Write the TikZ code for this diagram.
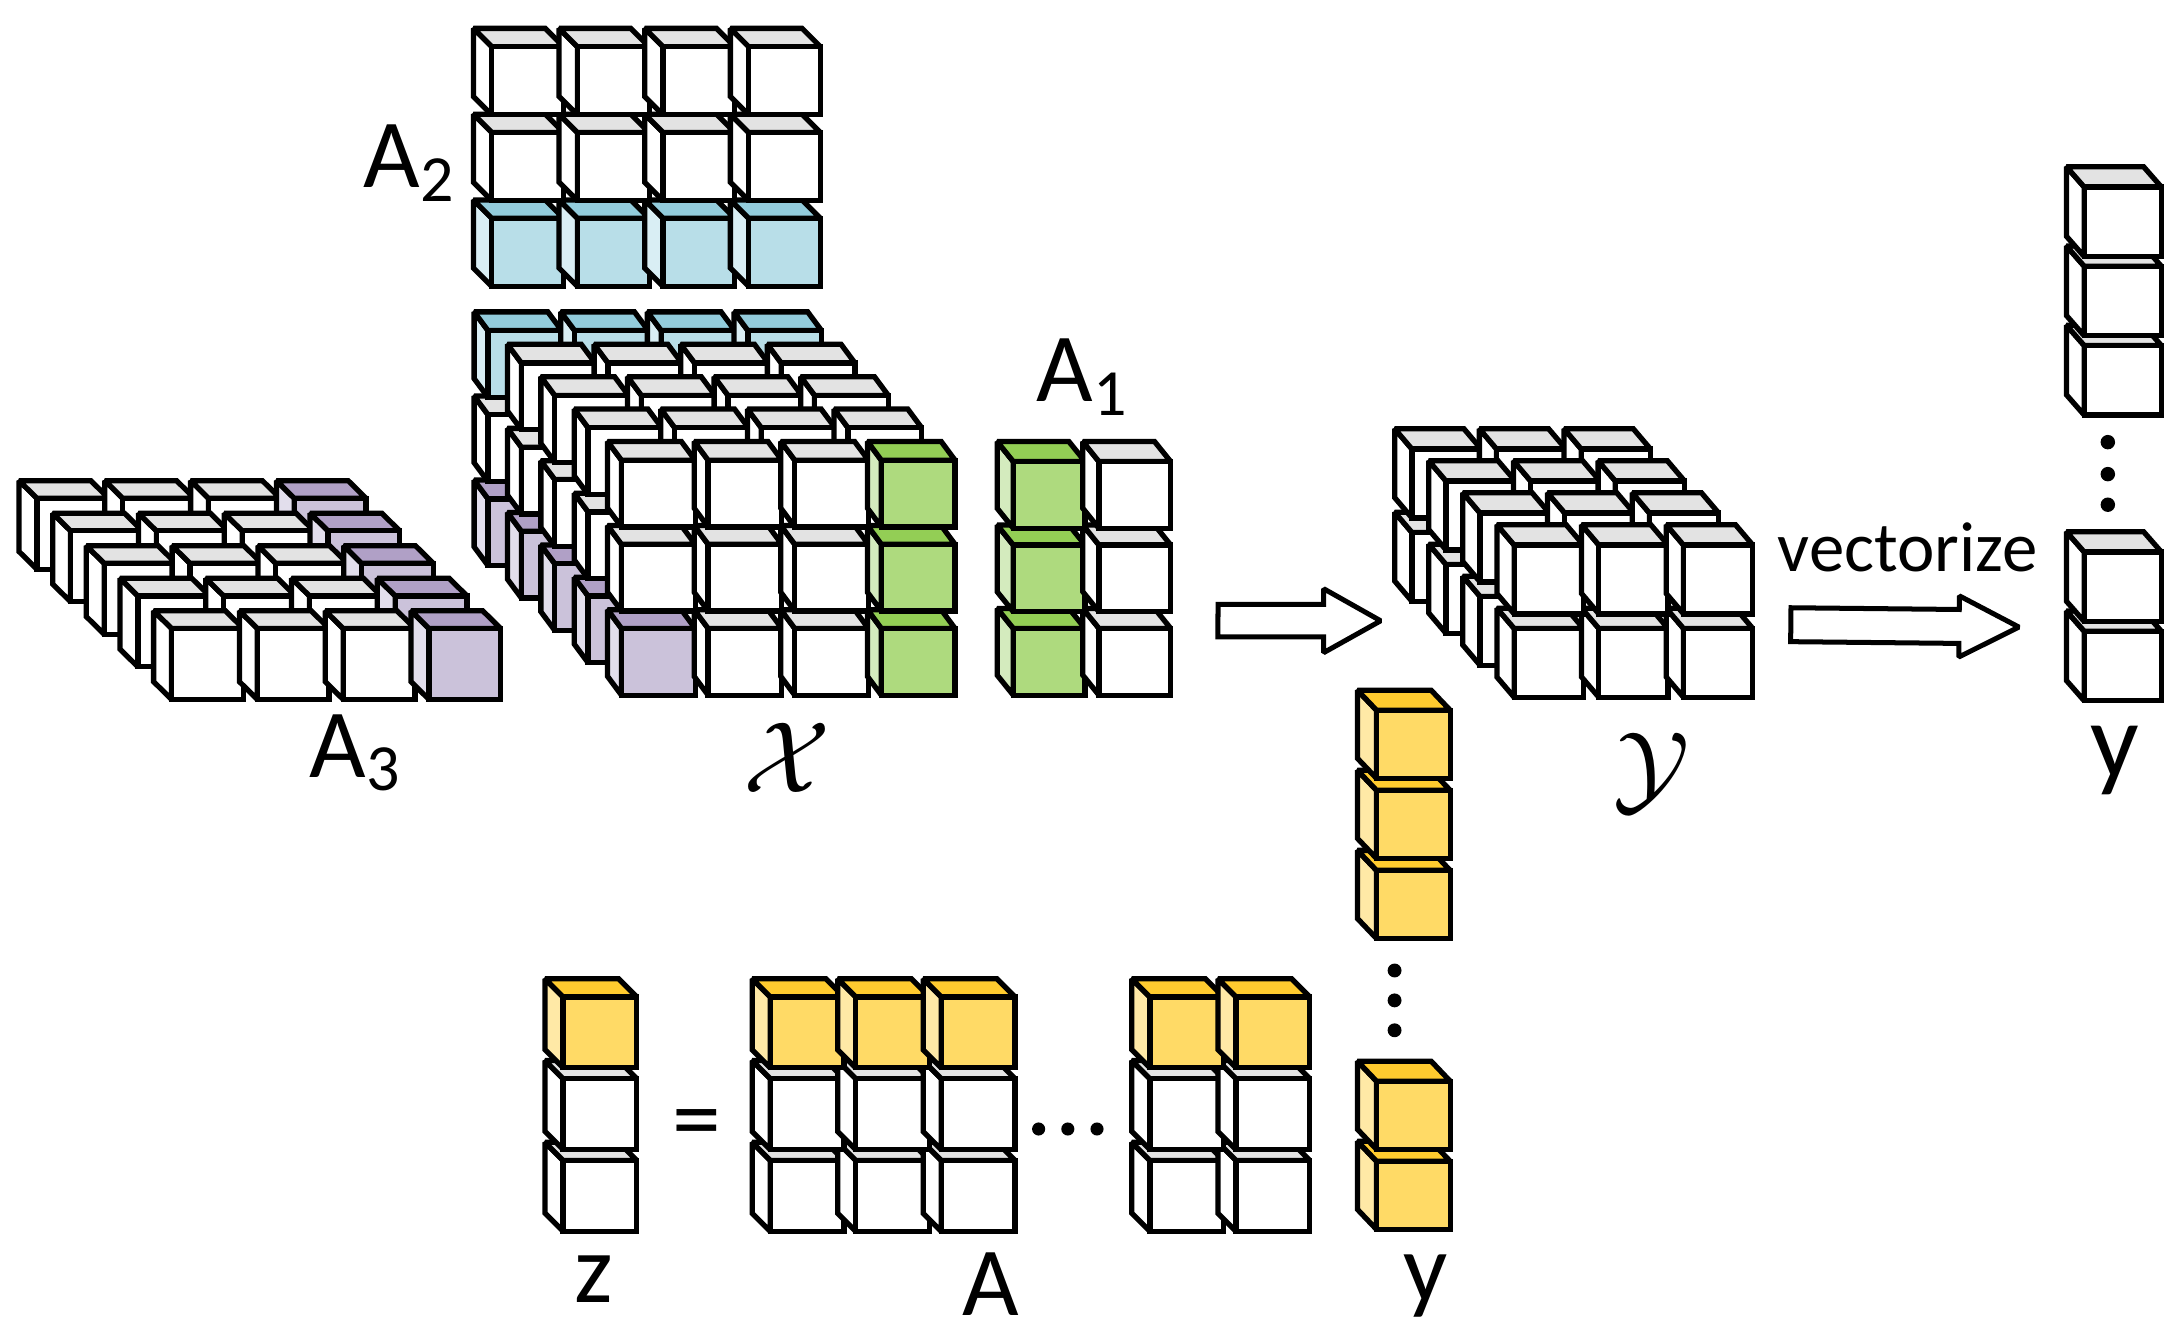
\documentclass[tikz,border=0pt]{standalone}
\usepackage{fontspec}
\setmainfont{Carlito}
\usetikzlibrary{calc}
% face colours: front, top, side
\definecolor{whtfront}{HTML}{FFFFFF}
\definecolor{whttop}{HTML}{E3E3E3}
\definecolor{whtside}{HTML}{FFFFFF}
\definecolor{blufront}{HTML}{B8DEE8}
\definecolor{blutop}{HTML}{93CCDC}
\definecolor{bluside}{HTML}{D9EEF4}
\definecolor{grnfront}{HTML}{AEDA7E}
\definecolor{grntop}{HTML}{93CE55}
\definecolor{grnside}{HTML}{D4EBBE}
\definecolor{prpfront}{HTML}{CBC2DA}
\definecolor{prptop}{HTML}{B0A0C6}
\definecolor{prpside}{HTML}{E2DEEC}
\definecolor{ylwfront}{HTML}{FFDA66}
\definecolor{ylwtop}{HTML}{FFCB2F}
\definecolor{ylwside}{HTML}{FFE9A6}
\tikzset{
cubeline/.style={draw=black, line width=0.38mm, line join=miter, miter limit=1.5},
hollow/.style={draw=black, line width=0.36mm, fill=white, line join=miter, miter limit=1.5},
lbl/.style={font=\fontsize{20}{24}\selectfont, inner sep=0pt, anchor=base},
dot/.style={fill=black},
}
% cube size: front width, front height, depth x, depth y
\newcommand{\setcube}[4]{\def\cubeW{#1}\def\cubeH{#2}\def\cubeDX{#3}\def\cubeDY{#4}}
\newcommand{\drawcube}[3]{%
  \pgfmathsetmacro\cubeX{#1}\pgfmathsetmacro\cubeY{#2}%
  \filldraw[cubeline, fill=#3side] (\cubeX,\cubeY) -- ++(-\cubeDX,-\cubeDY) -- ++(0,\cubeH) -- ++(\cubeDX,\cubeDY) -- cycle;
  \filldraw[cubeline, fill=#3top] (\cubeX,\cubeY) -- ++(-\cubeDX,-\cubeDY) -- ++(\cubeW,0) -- ++(\cubeDX,\cubeDY) -- cycle;
  \filldraw[cubeline, fill=#3front] (\cubeX,\cubeY) rectangle ++(\cubeW,\cubeH);
}
% from, to, shaft half, head half, head length
\newcommand{\blockarrow}[5]{%
  \coordinate (hb) at ($(#2)!#5!(#1)$);
  \draw[hollow] ($(#1)!#3!90:(#2)$) -- ($(hb)!#3!-90:(#1)$) -- ($(hb)!#4!-90:(#1)$)
    -- (#2) -- ($(hb)!#4!90:(#1)$) -- ($(hb)!#3!90:(#1)$) -- ($(#1)!#3!-90:(#2)$) -- cycle;
}
\newcommand{\lblsub}[1]{\raisebox{-2.8pt}{\fontsize{13.5}{16}\selectfont #1}}

\begin{document}
\begin{tikzpicture}[x=0.1mm, y=-0.1mm]
\useasboundingbox (0,0) rectangle (1560,958.7);

% A3
\setcube{51.6}{51}{12.9}{12.7}
\begin{scope}[shift={(123.4,452)}]
\foreach \k in {4,3,2,1,0}
  \foreach \c in {1,2,3,4} {
    \ifnum\c=4 \def\cubecol{prp}\else\def\cubecol{wht}\fi
    \drawcube{(\c-1)*61.7-24.2*\k}{-23.4*\k}{\cubecol}
  }
\end{scope}

% A2
\setcube{51.6}{49}{13.2}{13.2}
\begin{scope}[shift={(353.7,33.6)}]
\foreach \r in {3,2,1}
  \foreach \c in {1,2,3,4} {
    \ifnum\r=3 \def\cubecol{blu}\else\def\cubecol{wht}\fi
    \drawcube{(\c-1)*61.6}{(\r-1)*61.7}{\cubecol}
  }
\end{scope}

% the tensor X
\setcube{53}{48}{10}{13.5}
\begin{scope}[shift={(447,331)}]
\foreach \k in {4,3,2,1,0}
  \foreach \r in {3,2,1}
    \foreach \c in {1,2,3,4} {
      \def\cubecol{wht}
      \ifnum\k=4 \ifnum\r=1 \def\cubecol{blu}\fi\fi
      \ifnum\c=1 \ifnum\r=3 \def\cubecol{prp}\fi\fi
      \ifnum\k=0 \ifnum\c=4 \def\cubecol{grn}\fi\fi
      \drawcube{(\c-1)*62.3-24*\k}{(\r-1)*60.5-23.3*\k}{\cubecol}
    }
\end{scope}

% A1
\setcube{51.6}{48}{11.6}{14.4}
\begin{scope}[shift={(728.8,332)}]
\foreach \r in {3,2,1}
  \foreach \c in {1,2} {
    \ifnum\c=1 \def\cubecol{grn}\else\def\cubecol{wht}\fi
    \drawcube{(\c-1)*61.6}{(\r-1)*60}{\cubecol}
  }
\end{scope}

% the tensor Y
\setcube{49.8}{49.5}{12.4}{14.6}
\begin{scope}[shift={(1089,392)}]
\foreach \k in {3,2,1,0}
  \foreach \r in {2,1}
    \foreach \c in {1,2,3}
      \drawcube{(\c-1)*60.9-24.5*\k}{(\r-1)*60-23*\k}{wht};
\end{scope}

% vector y on the right
\setcube{55.5}{50}{12.8}{14.6}
\foreach \t in {454,397,248.5,191.5,134.5}
  \drawcube{1499}{\t}{wht};
\foreach \t in {318,341,363}
  \fill[dot] (1516,\t) circle[radius=5.2];

% yellow vector y
\setcube{53}{49}{13.7}{14.4}
\foreach \t in {835.2,777.6,626,568.4,510.8}
  \drawcube{990}{\t}{ylw};
\foreach \t in {698,719.5,741}
  \fill[dot] (1003,\t) circle[radius=5];

% z and A
\setcube{53}{51}{13}{13}
\foreach \r in {3,2,1}
  \foreach \x in {405,554,615.5,677,827,889} {
    \ifnum\r=1 \def\cubecol{ylw}\else\def\cubecol{wht}\fi
    \drawcube{\x}{717+(\r-1)*58.8}{\cubecol}
  }
\foreach \x in {747,768,789}
  \fill[dot] (\x,812) circle[radius=4.7];

% the arrows
\coordinate (arr1 tail) at (876,446.3);
\coordinate (arr1 tip) at (993,446.5);
\blockarrow{arr1 tail}{arr1 tip}{1.17mm}{2.3mm}{4.1mm}
\coordinate (arr2 tail) at (1288,449.3);
\coordinate (arr2 tip) at (1452,451);
\blockarrow{arr2 tail}{arr2 tip}{1.22mm}{2.2mm}{4.3mm}

% labels
\node[lbl] (labA2) at (294,135) {A\lblsub{2}};
\node[lbl] (labA1) at (778,289) {A\lblsub{1}};
\node[lbl] (labA3) at (255,559) {A\lblsub{3}};
\node[lbl] (labX) at (566,570) {$\mathcal{X}$};
\node[lbl] (labY) at (1188,577) {$\mathcal{Y}$};
\node[lbl, font=\fontsize{14.5}{17}\selectfont] (labvec) at (1372,411) {vectorize};
\node[lbl, font=\fontsize{22}{26}\selectfont] (laby) at (1521,559) {y};
\node[lbl] (labz) at (427,936.5) {z};
\node[lbl] (labA) at (712.6,946) {A};
\node[lbl] (laby2) at (1025,936) {y};
\node[lbl] (eq) at (501.5,828) {=};
\end{tikzpicture}
\end{document}
